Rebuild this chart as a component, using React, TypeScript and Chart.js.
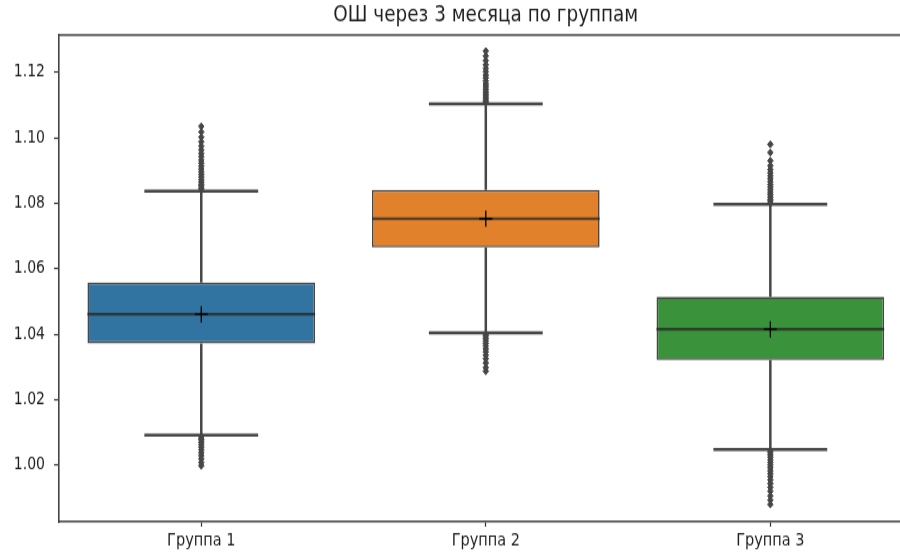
import React, { useEffect, useRef } from "react";
import { Chart, registerables } from "chart.js";

Chart.register(...registerables);

const TITLE = "ОШ через 3 месяца по группам";
const CATEGORIES = ["Группа 1", "Группа 2", "Группа 3"];
const Y_TICKS = [1.0, 1.02, 1.04, 1.06, 1.08, 1.1, 1.12];

const Q1 = [1.0372, 1.0665, 1.0321];
const MEDIAN = [1.0461, 1.0753, 1.0415];
const Q3 = [1.0558, 1.0841, 1.0514];
const LOW_WHISKER = [1.0092, 1.0404, 1.0048];
const HIGH_WHISKER = [1.0837, 1.1104, 1.0797];
const MEAN = [1.0461, 1.0753, 1.0415];

const OUTLIERS_1 = [
  1.084, 1.0846, 1.0852, 1.0858, 1.0865, 1.0872, 1.088, 1.0888, 1.0896, 1.0905,
  1.0914, 1.0923, 1.0932, 1.0942, 1.0952, 1.0963, 1.0975, 1.0988, 1.1002, 1.1018,
  1.1035, 1.0088, 1.0083, 1.0077, 1.007, 1.0063, 1.0055, 1.0047, 1.0038, 1.0029,
  1.0019, 1.0008, 0.9998,
];
const OUTLIERS_2 = [
  1.1108, 1.1114, 1.112, 1.1127, 1.1134, 1.1141, 1.1149, 1.1157, 1.1165, 1.1174,
  1.1183, 1.1192, 1.1202, 1.1212, 1.1223, 1.1236, 1.125, 1.1265, 1.04, 1.0394,
  1.0387, 1.038, 1.0372, 1.0364, 1.0355, 1.0346, 1.0336, 1.0325, 1.0312, 1.0298,
  1.0287,
];
const OUTLIERS_3 = [
  1.08, 1.0806, 1.0812, 1.0819, 1.0826, 1.0833, 1.0841, 1.0849, 1.0857, 1.0866,
  1.0875, 1.0884, 1.0893, 1.0903, 1.0915, 1.093, 1.0955, 1.098, 1.0045, 1.0038,
  1.0031, 1.0024, 1.0016, 1.0008, 1.0, 0.9992, 0.9983, 0.9974, 0.9965, 0.9955,
  0.9944, 0.9932, 0.992, 0.9906, 0.9893, 0.988,
];
const OUTLIERS = [OUTLIERS_1, OUTLIERS_2, OUTLIERS_3];

const BOX_COLORS = ["#3274a1", "#e1812c", "#3a923a"];
const LINE_COLOR = "#474747";
const TEXT_COLOR = "#1f1f1f";
const FONT = "'DejaVu Sans', sans-serif";
const BOX_WIDTH = 0.8;
const CAP_WIDTH = 0.4;
const X_MIN = -0.5;
const X_MAX = 2.526;
const Y_MIN = 0.9827;
const Y_MAX = 1.1314;

// The reference image is vertically stretched; the canvas is drawn at a
// smaller height and displayed stretched to the page size. The plot runs
// past the right edge of the picture, so the canvas is wider than the view.
const VIEW_W = 900;
const VIEW_H = 553;
const DRAW_W = 920;
const DRAW_H = 442;

const boxPlugin = {
  id: "boxParts",
  beforeDraw(chart: any) {
    const { ctx, width, height } = chart;
    ctx.save();
    ctx.fillStyle = "#ffffff";
    ctx.fillRect(0, 0, width, height);
    ctx.restore();
  },
  beforeDatasetsDraw(chart: any) {
    const { ctx, scales, chartArea } = chart;
    const x = scales.x;
    const y = scales.y;
    ctx.save();
    ctx.beginPath();
    ctx.rect(chartArea.left, chartArea.top, chartArea.right - chartArea.left, chartArea.bottom - chartArea.top);
    ctx.clip();
    ctx.strokeStyle = LINE_COLOR;
    ctx.lineWidth = 2.5;
    ctx.lineCap = "butt";
    CATEGORIES.forEach((_, i) => {
      const cx = x.getPixelForValue(i);
      const l = x.getPixelForValue(i - CAP_WIDTH / 2);
      const r = x.getPixelForValue(i + CAP_WIDTH / 2);
      const yl = y.getPixelForValue(LOW_WHISKER[i]);
      const yh = y.getPixelForValue(HIGH_WHISKER[i]);
      ctx.beginPath();
      ctx.moveTo(cx, yl);
      ctx.lineTo(cx, y.getPixelForValue(Q1[i]));
      ctx.moveTo(cx, y.getPixelForValue(Q3[i]));
      ctx.lineTo(cx, yh);
      ctx.moveTo(l, yl);
      ctx.lineTo(r, yl);
      ctx.moveTo(l, yh);
      ctx.lineTo(r, yh);
      ctx.stroke();
    });
    ctx.restore();
  },
  afterDatasetDraw(chart: any, args: any) {
    if (args.index !== 0) return;
    const { ctx, scales } = chart;
    const x = scales.x;
    const y = scales.y;
    ctx.save();
    ctx.strokeStyle = "rgba(40,40,40,0.8)";
    ctx.lineWidth = 2.2;
    CATEGORIES.forEach((_, i) => {
      const l = x.getPixelForValue(i - BOX_WIDTH / 2);
      const r = x.getPixelForValue(i + BOX_WIDTH / 2);
      const ym = y.getPixelForValue(MEDIAN[i]);
      ctx.beginPath();
      ctx.moveTo(l, ym);
      ctx.lineTo(r, ym);
      ctx.stroke();
    });
    ctx.restore();
  },
  afterDraw(chart: any) {
    const { ctx, chartArea, scales } = chart;
    ctx.save();
    ctx.strokeStyle = "#444444";
    ctx.lineWidth = 1.5;
    ctx.beginPath();
    ctx.moveTo(chartArea.left, chartArea.top);
    ctx.lineTo(chartArea.right, chartArea.top);
    ctx.stroke();
    ctx.fillStyle = TEXT_COLOR;
    ctx.font = `18.4px ${FONT}`;
    ctx.textAlign = "center";
    ctx.textBaseline = "middle";
    const midValue = (CATEGORIES.length - 1) / 2;
    ctx.fillText(TITLE, scales.x.getPixelForValue(midValue), 12.5);
    ctx.restore();
  },
};

export default function App() {
  const ref = useRef<HTMLCanvasElement | null>(null);

  useEffect(() => {
    if (!ref.current) return;
    const boxData = CATEGORIES.map((_, i) => ({ x: i, y: [Q1[i], Q3[i]] }));
    const outlierData = OUTLIERS.flatMap((arr, i) => arr.map((v) => ({ x: i, y: v })));
    const meanData = MEAN.map((v, i) => ({ x: i, y: v }));

    const chart = new Chart(ref.current, {
      type: "bar",
      data: {
        datasets: [
          {
            type: "bar",
            label: "box",
            data: boxData as any,
            backgroundColor: BOX_COLORS,
            borderColor: LINE_COLOR,
            borderWidth: 1.6,
            borderSkipped: false,
            categoryPercentage: 1,
            barPercentage: BOX_WIDTH,
            order: 3,
          } as any,
          {
            type: "scatter",
            label: "outliers",
            data: outlierData,
            pointStyle: "rectRot",
            pointRadius: 2.8,
            backgroundColor: LINE_COLOR,
            borderColor: LINE_COLOR,
            borderWidth: 1,
            order: 2,
          } as any,
          {
            type: "scatter",
            label: "mean",
            data: meanData,
            pointStyle: "cross",
            pointRadius: 6.5,
            borderColor: "#000000",
            borderWidth: 1.3,
            order: 1,
          } as any,
        ],
      },
      options: {
        animation: false,
        responsive: false,
        maintainAspectRatio: false,
        layout: { autoPadding: false, padding: { top: 28, left: 0, right: 0, bottom: 0 } },
        plugins: {
          legend: { display: false },
          tooltip: { enabled: false },
          title: { display: false },
        },
        scales: {
          x: {
            type: "linear",
            min: X_MIN,
            max: X_MAX,
            offset: false,
            afterBuildTicks: (scale: any) => {
              scale.ticks = CATEGORIES.map((_, i) => ({ value: i }));
            },
            afterFit: (scale: any) => {
              scale.height = 25;
            },
            grid: {
              display: true,
              offset: false,
              drawOnChartArea: false,
              drawTicks: true,
              tickLength: 4,
              tickWidth: 1.2,
              tickColor: "#333333",
            },
            border: { display: true, color: "#444444", width: 1.5 },
            ticks: {
              autoSkip: false,
              maxRotation: 0,
              padding: 3,
              color: TEXT_COLOR,
              font: { family: FONT, size: 14.5 },
              callback: (v: any) => CATEGORIES[Math.round(Number(v))] ?? "",
            },
          },
          y: {
            type: "linear",
            min: Y_MIN,
            max: Y_MAX,
            afterBuildTicks: (scale: any) => {
              scale.ticks = Y_TICKS.map((v) => ({ value: v }));
            },
            afterFit: (scale: any) => {
              scale.width = 59;
            },
            grid: {
              display: true,
              drawOnChartArea: false,
              drawTicks: true,
              tickLength: 5,
              tickWidth: 1.2,
              tickColor: "#333333",
            },
            border: { display: true, color: "#444444", width: 1.6 },
            ticks: {
              padding: 9,
              color: TEXT_COLOR,
              font: { family: FONT, size: 14 },
              callback: (v: any) => Number(v).toFixed(2),
            },
          },
        },
      } as any,
      plugins: [boxPlugin],
    });
    return () => chart.destroy();
  }, []);

  return (
    <div style={{ position: "fixed", left: 0, top: 0, width: VIEW_W, height: VIEW_H, background: "#fff", overflow: "hidden" }}>
      <canvas
        ref={ref}
        width={DRAW_W}
        height={DRAW_H}
        style={{ width: DRAW_W, height: VIEW_H, display: "block" }}
      />
    </div>
  );
}
